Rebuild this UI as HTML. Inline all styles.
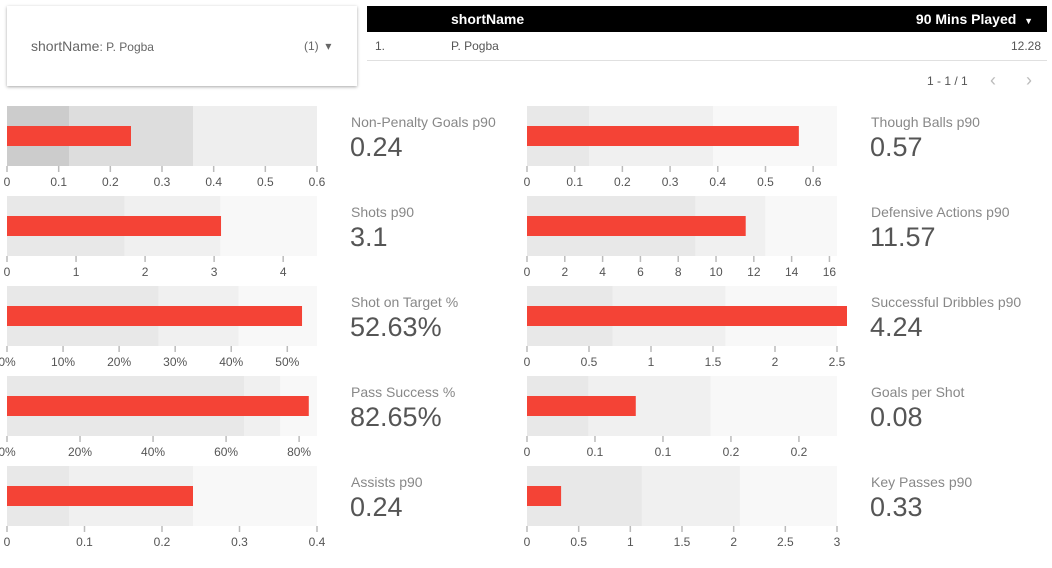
<!DOCTYPE html>
<html><head><meta charset="utf-8">
<style>
body{margin:0;width:1052px;height:568px;background:#fff;font-family:"Liberation Sans",sans-serif;position:relative;overflow:hidden}
.abs{position:absolute}
svg text{font-family:"Liberation Sans",sans-serif}
</style></head><body>
<div class="abs" style="left:7px;top:6px;width:350px;height:80px;background:#fff;box-shadow:0 1px 3px rgba(0,0,0,0.35)">
  <span class="abs" style="left:24px;top:32px;font-size:14px;color:#666">shortName<span style="font-size:12px">: P. Pogba</span></span>
  <span class="abs" style="left:297px;top:33px;font-size:12px;color:#666">(1) &nbsp;▾</span>
</div>
<div class="abs" style="left:367px;top:6px;width:680px;height:26px;background:#000;color:#fff;font-size:14px;font-weight:bold">
  <span class="abs" style="left:84px;top:5px">shortName</span>
  <span class="abs" style="right:14px;top:5px">90 Mins Played &nbsp;<span style="font-size:9px">▼</span></span>
</div>
<div class="abs" style="left:367px;top:32px;width:680px;height:28px;border-bottom:1px solid #e0e0e0;font-size:12px;color:#555">
  <span class="abs" style="left:8px;top:7px">1.</span>
  <span class="abs" style="left:84px;top:7px">P. Pogba</span>
  <span class="abs" style="right:6px;top:7px">12.28</span>
</div>
<div class="abs" style="left:927px;top:74px;font-size:12px;color:#555">1 - 1 / 1</div>
<div class="abs" style="left:990px;top:70px;font-size:18px;color:#bbb">‹</div>
<div class="abs" style="left:1026px;top:70px;font-size:18px;color:#bbb">›</div>
<svg id="charts" class="abs" style="left:0;top:0" width="1052" height="568"></svg>
<script>
const titles=["Non-Penalty Goals p90","Shots p90","Shot on Target %","Pass Success %","Assists p90","Though Balls p90","Defensive Actions p90","Successful Dribbles p90","Goals per Shot","Key Passes p90"];
const values=[0.24,3.1,52.63,82.65,0.24,0.57,11.57,4.24,0.08,0.33];
const labels=["0.24","3.1","52.63%","82.65%","0.24","0.57","11.57","4.24","0.08","0.33"];
const maxes=[0.6,4.49,55.3,84.9,0.4,0.65,16.4,2.5,0.228,3];
const band1=[0.12,1.7,27.0,64.9,0.08,0.13,8.9,0.69,0.045,1.11];
const band2=[0.36,3.09,41.3,74.8,0.24,0.39,12.6,1.6,0.135,2.06];
const ticks=[[0,0.1,0.2,0.3,0.4,0.5,0.6],[0,1,2,3,4],[0,10,20,30,40,50],[0,20,40,60,80],[0,0.1,0.2,0.3,0.4],[0,0.1,0.2,0.3,0.4,0.5,0.6],[0,2,4,6,8,10,12,14,16],[0,0.5,1,1.5,2,2.5],[0,0.05,0.1,0.15,0.2],[0,0.5,1,1.5,2,2.5,3]];
const tickFmt=[null,null,"%","%",null,null,null,null,"r1",null];
const svg=document.getElementById('charts');
const NS="http://www.w3.org/2000/svg";
function mk(t,a){const e=document.createElementNS(NS,t);for(const k in a)e.setAttribute(k,a[k]);svg.appendChild(e);return e;}
const W=310,H=60;
for(let i=0;i<10;i++){
  const x0=i<5?7:527, y0=106+(i%5)*90;
  const sx=v=>x0+Math.min(v,maxes[i])/maxes[i]*W;
  const cols=i===0?["#cccccc","#dddddd","#eeeeee"]:["#e8e8e8","#f0f0f0","#f8f8f8"];
  let r=mk('rect',{x:x0,y:y0,width:W,height:H,fill:cols[2]});
  
  
  r=mk('rect',{x:x0,y:y0,width:sx(band2[i])-x0,height:H,fill:cols[1]});
  
  
  r=mk('rect',{x:x0,y:y0,width:sx(band1[i])-x0,height:H,fill:cols[0]});
  
  
  const bw=values[i]>maxes[i]?W+10:sx(values[i])-x0;
  r=mk('rect',{x:x0,y:y0+20,width:bw,height:20,fill:"#f44336"});
  
  
  ticks[i].forEach(t=>{
    const x=sx(t);
    mk('line',{x1:x,x2:x,y1:y0+H,y2:y0+H+6,stroke:"#bbb","stroke-width":1.5});
    let s=String(t);
    if(tickFmt[i]==="%")s=t+"%";
    if(tickFmt[i]==="r1")s=t===0?"0":(Math.round(t*10)/10).toFixed(1);
    const tx=mk('text',{x:x,y:y0+H+20,"text-anchor":"middle","font-size":12,fill:"#555"});
    tx.textContent=s;
    
    
  });
  const tl=mk('text',{x:x0+344,y:y0+21,"font-size":14,fill:"#888"});
  tl.textContent=titles[i];
  
  
  const vl=mk('text',{x:x0+343,y:y0+50,"font-size":27,fill:"#555"});
  vl.textContent=labels[i];
  
  
}
</script>
</body></html>
